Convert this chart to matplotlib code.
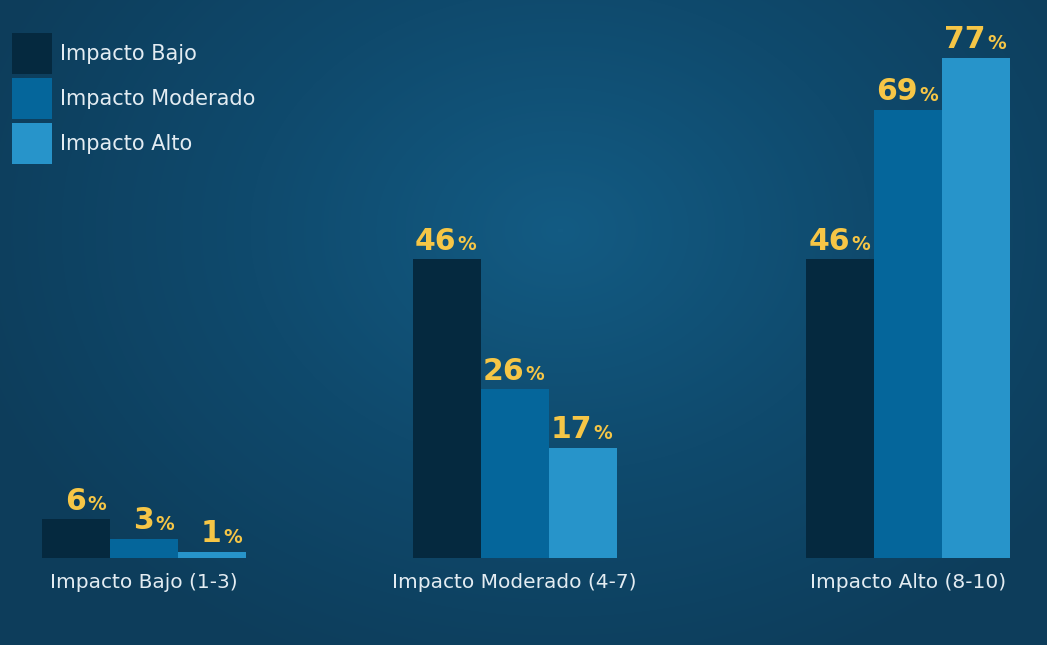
import numpy as np
import matplotlib.pyplot as plt
from matplotlib.colors import LinearSegmentedColormap

# Data
categories = ['Impacto Bajo (1-3)', 'Impacto Moderado (4-7)', 'Impacto Alto (8-10)']
series_names = ['Impacto Bajo', 'Impacto Moderado', 'Impacto Alto']
bajo = [6, 46, 46]
moderado = [3, 26, 69]
alto = [1, 17, 77]
series = [bajo, moderado, alto]

colors = ['#05293f', '#05669b', '#2794ca']
label_color = '#f6c646'
text_color = '#e3ecf2'

W, H, DPI = 1047, 645, 100
fig = plt.figure(figsize=(W / DPI, H / DPI), dpi=DPI)

# radial gradient background
bg = fig.add_axes([0, 0, 1, 1], zorder=0)
yy, xx = np.mgrid[0:H, 0:W]
r = np.sqrt(((xx - 560) / 620) ** 2 + ((yy - 230) / 480) ** 2)
cmap = LinearSegmentedColormap.from_list('bg', ['#135b83', '#0f4a6d', '#0d3d5b'])
bg.imshow(np.clip(r, 0, 1), cmap=cmap, aspect='auto', extent=[0, W, H, 0])
bg.axis('off')

# main axes: baseline at y=558 px from top
base_px = 87
ax = fig.add_axes([0, base_px / H, 1, (H - base_px) / H], zorder=1)
ax.patch.set_alpha(0)
px_per_unit = 382
bar_w = 68 / px_per_unit
group_pos = np.array([0, 0.97, 2])
ax.set_xlim(-144 / px_per_unit, 2 + (W - 908) / px_per_unit)
ax.set_ylim(0, (H - base_px) / 6.5)
ax.axis('off')

handles = []
for i, (vals, name, c) in enumerate(zip(series, series_names, colors)):
    xs = group_pos + (i - 1) * bar_w
    bars = ax.bar(xs, vals, width=bar_w, color=c, label=name)
    handles.append(bars)
    for xi, v in zip(xs, vals):
        ax.annotate(f'{v}', (xi, v), xytext=(7, 2.5), textcoords='offset points',
                    ha='right', va='bottom', fontsize=21.5, fontweight='heavy',
                    color=label_color)
        ax.annotate('%', (xi, v), xytext=(8, 3.5), textcoords='offset points',
                    ha='left', va='bottom', fontsize=13.5, fontweight='bold',
                    color=label_color)

for xi, cat in zip(group_pos, categories):
    ax.annotate(cat, (xi, 0), xytext=(0, -18), textcoords='offset points',
                ha='center', va='center', fontsize=14.5, color=text_color)

leg = fig.legend(handles=handles, labels=series_names, loc='upper left',
                 bbox_to_anchor=(12 / W, 1 - 33 / H), frameon=False,
                 fontsize=15, handlelength=1.93, handleheight=2.65,
                 labelspacing=0.19, handletextpad=0.38, borderaxespad=0,
                 borderpad=0)
for t in leg.get_texts():
    t.set_color(text_color)

plt.savefig('out.png', dpi=DPI)
